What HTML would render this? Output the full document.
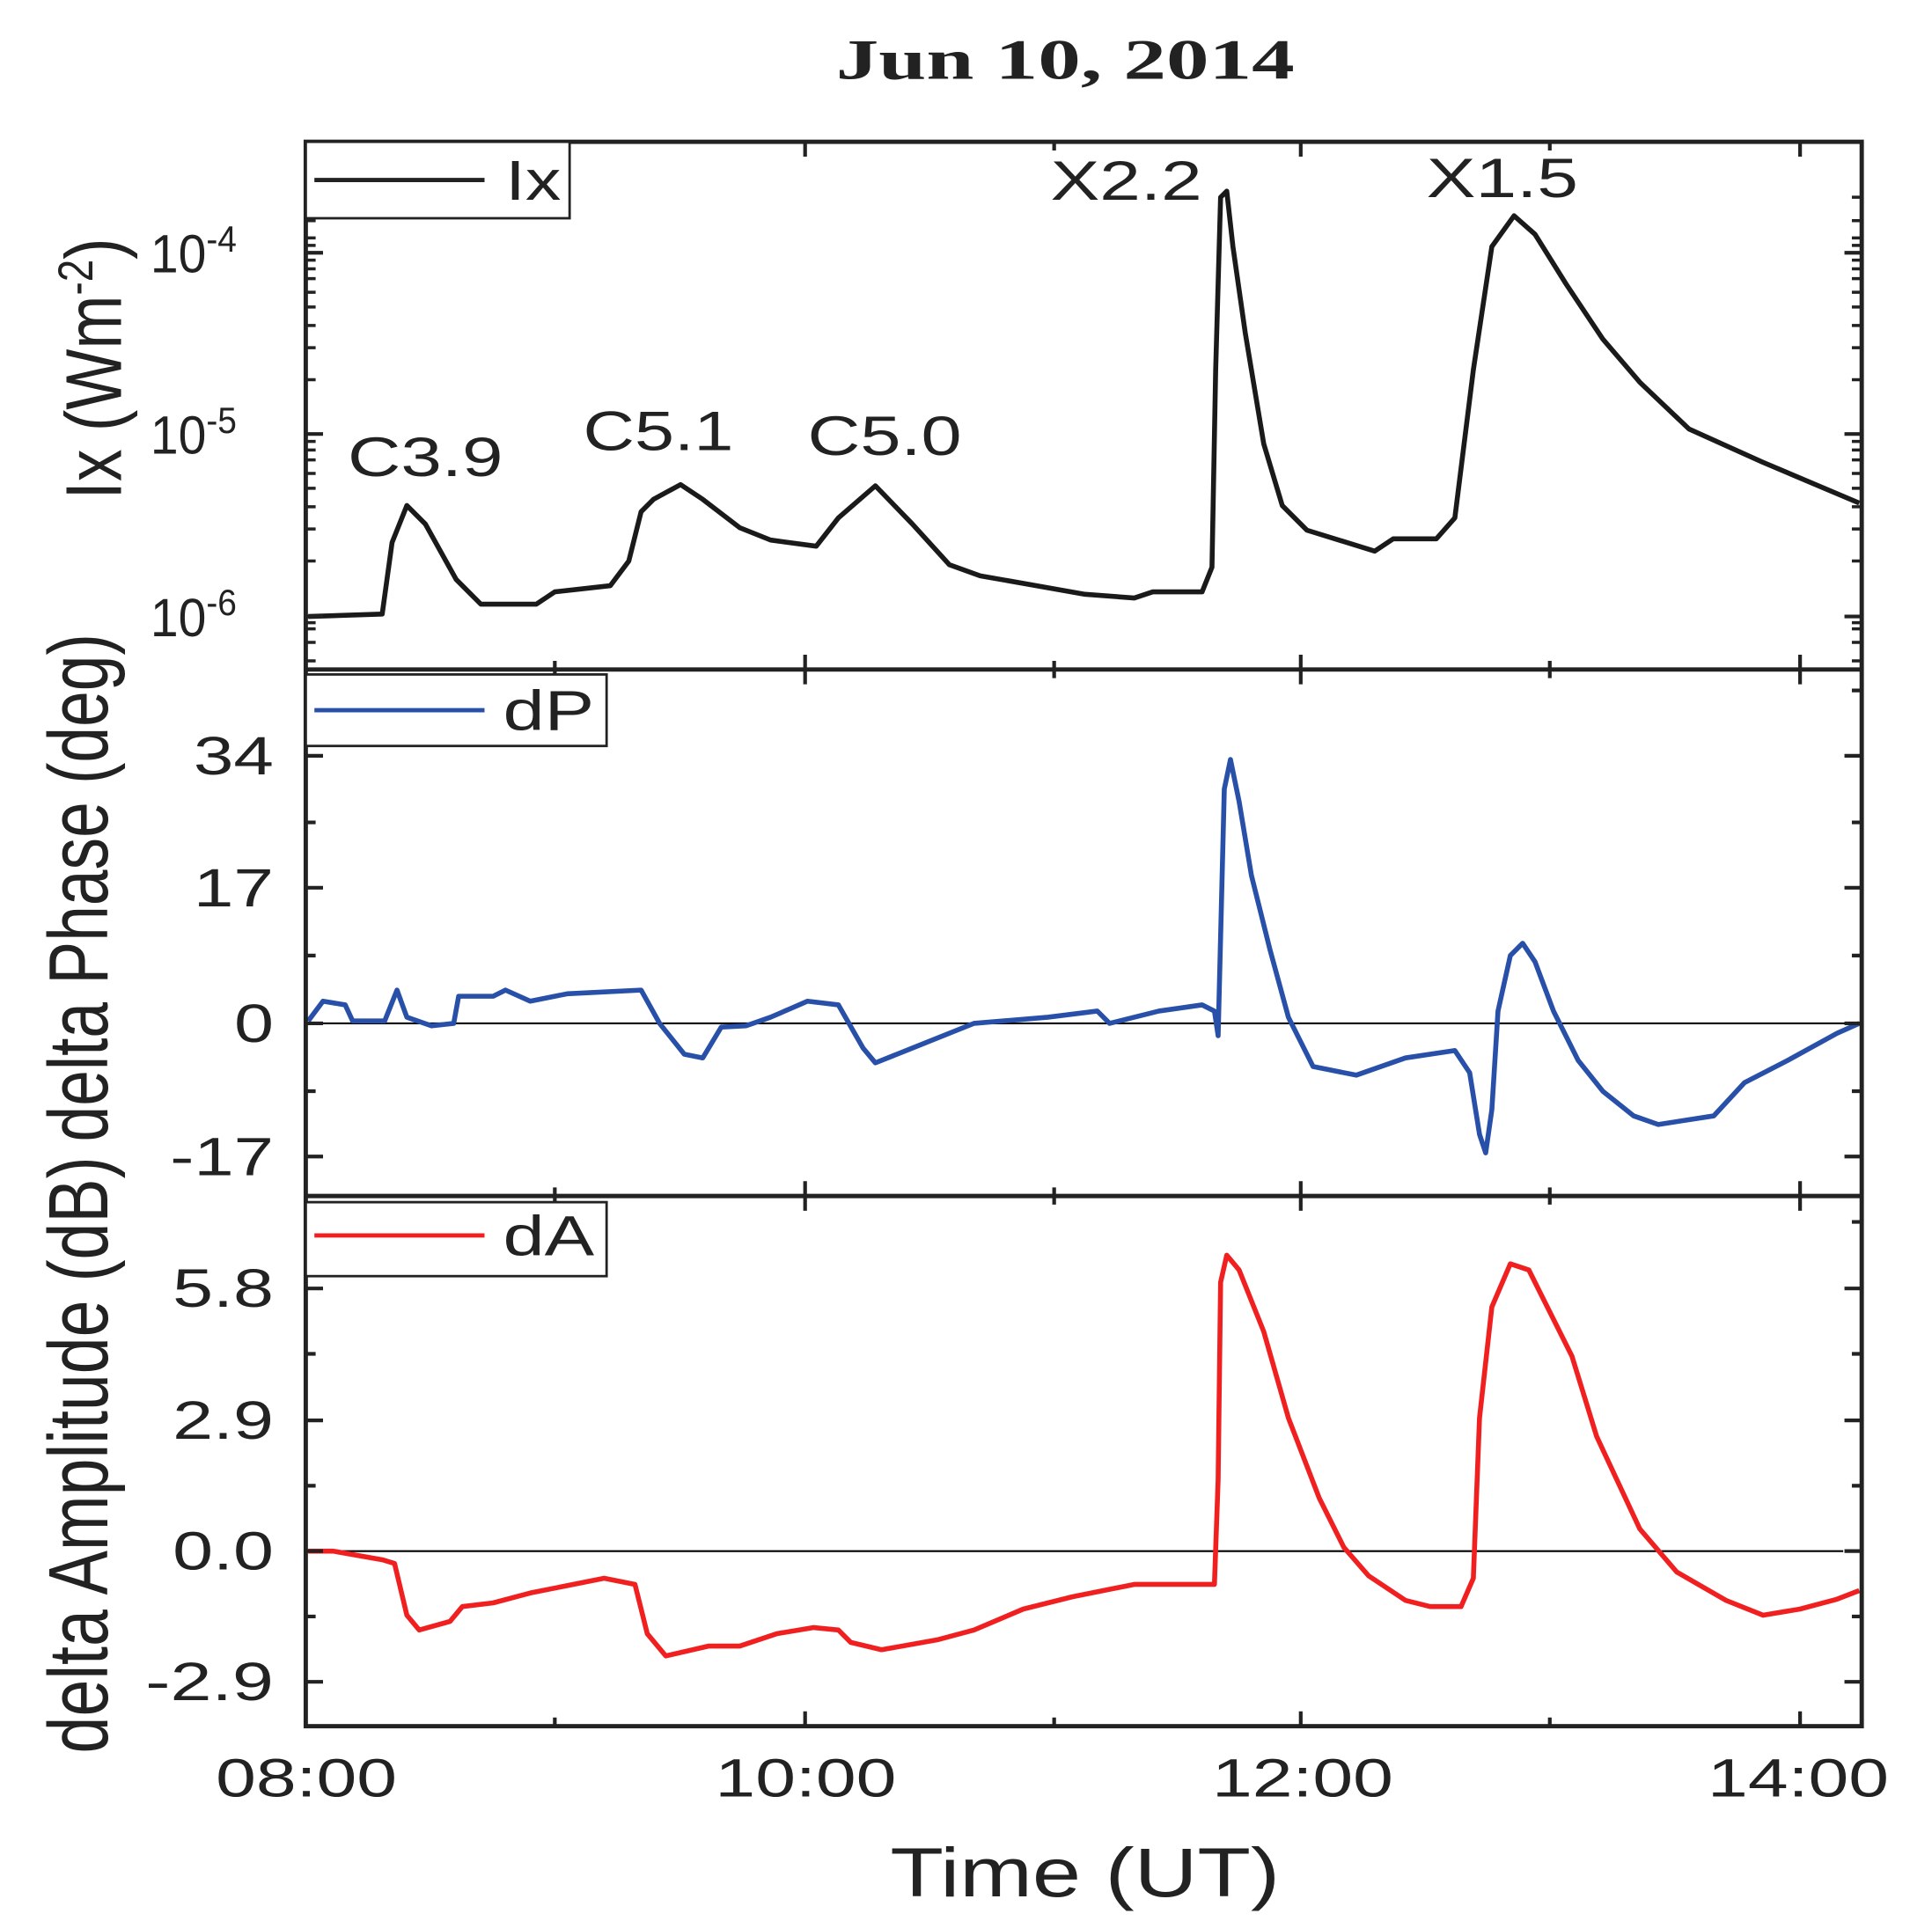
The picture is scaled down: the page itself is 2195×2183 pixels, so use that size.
<!DOCTYPE html>
<html><head><meta charset="utf-8"><style>html,body{margin:0;padding:0;background:#fff}svg{display:block}</style></head>
<body>
<svg width="2195" height="2183" viewBox="0 0 1567 1558" preserveAspectRatio="none" xmlns="http://www.w3.org/2000/svg" font-family="Liberation Sans, sans-serif">
<rect width="1567" height="1558" fill="#fff"/>
<text x="864" y="64" font-family="Liberation Serif, serif" font-weight="bold" font-size="46" text-anchor="middle" fill="#222" textLength="372" lengthAdjust="spacingAndGlyphs">Jun 10, 2014</text>

<line x1="248" y1="830" x2="1510" y2="830" stroke="#000" stroke-width="1.5"/>
<line x1="248" y1="1258" x2="1495" y2="1258" stroke="#000" stroke-width="1.5"/>

<polyline fill="none" stroke="#1a1a1a" stroke-width="4" stroke-linejoin="round" points="250,500 310,498 318,440 330,410 345,425 370,470 390,490 435,490 450,480 495,475 510,455 520,415 530,405 552,393 570,405 600,428 625,438 662,443 680,420 710,394 740,425 770,458 795,467 880,482 920,485 935,480 975,480 983,460 986,300 990,160 995,155 1000,200 1010,270 1025,360 1040,410 1060,430 1115,447 1130,437 1165,437 1180,420 1195,300 1210,200 1228,175 1245,190 1270,230 1300,275 1330,310 1370,348 1430,375 1508,408"/>
<polyline fill="none" stroke="#2850a8" stroke-width="4" stroke-linejoin="round" points="250,828 262,812 280,815 286,828 312,828 322,803 330,825 350,832 368,830 372,808 400,808 410,803 430,812 460,806 520,803 535,830 555,855 570,858 585,833 605,832 625,825 655,812 680,815 700,850 710,862 740,850 790,830 850,825 890,820 900,830 940,820 975,815 985,820 988,840 990,760 993,640 998,616 1005,650 1015,710 1030,770 1045,825 1065,865 1100,872 1140,858 1180,852 1192,870 1200,920 1205,935 1210,900 1215,820 1225,775 1235,765 1245,780 1260,820 1280,860 1300,885 1325,905 1345,912 1390,905 1415,878 1450,860 1490,838 1508,830"/>
<polyline fill="none" stroke="#f02020" stroke-width="4" stroke-linejoin="round" points="250,1258 270,1258 310,1265 320,1268 330,1310 340,1322 365,1315 375,1303 400,1300 430,1292 490,1280 515,1285 525,1325 540,1343 575,1335 600,1335 630,1325 660,1320 680,1322 690,1332 715,1338 760,1330 790,1322 830,1305 870,1295 920,1285 985,1285 988,1200 990,1040 995,1018 1005,1030 1025,1080 1045,1150 1070,1215 1090,1255 1110,1278 1140,1298 1160,1303 1185,1303 1195,1280 1200,1150 1210,1060 1225,1025 1240,1030 1255,1060 1275,1100 1295,1165 1330,1240 1360,1275 1400,1298 1430,1310 1460,1305 1490,1297 1508,1290"/>

<g stroke="#222" stroke-width="3">
<path d="M653,115v12M1055,115v12M1460,115v12M653,543v-12M1055,543v-12M1460,543v-12
M653,543v12M1055,543v12M1460,543v12M653,970v-12M1055,970v-12M1460,970v-12
M653,970v12M1055,970v12M1460,970v12M653,1400v-12M1055,1400v-12M1460,1400v-12
M450,115v7M855,115v7M1257,115v7M450,543v-7M855,543v-7M1257,543v-7
M450,543v7M855,543v7M1257,543v7M450,970v-7M855,970v-7M1257,970v-7
M450,970v7M855,970v7M1257,970v7M450,1400v-7M855,1400v-7M1257,1400v-7"/>
<path d="M248,613h14M248,720h14M248,830h14M248,938h14M1510,613h-14M1510,720h-14M1510,830h-14M1510,938h-14
M248,667h8M248,775h8M248,885h8M1510,667h-8M1510,775h-8M1510,885h-8M248,560h8M1510,560h-8
M248,1045h14M248,1152h14M248,1258h14M248,1364h14M1510,1045h-14M1510,1152h-14M1510,1258h-14M1510,1364h-14
M248,1098h8M248,1205h8M248,1311h8M1510,1098h-8M1510,1205h-8M1510,1311h-8M248,991h8M1510,991h-8
M248,205h14M248,352h14M248,500h14M1510,205h-14M1510,352h-14M1510,500h-14"/>
<path stroke-width="2.5" d="M248,160h8M248,179h8M248,193h8M248,199h8M248,308h8M248,282h8M248,264h8M248,249h8M248,237h8M248,226h8M248,218h8M248,211h8M248,455h8M248,429h8M248,411h8M248,396h8M248,384h8M248,373h8M248,365h8M248,358h8M248,536h8M248,521h8M248,510h8M248,505h8
M1510,160h-8M1510,179h-8M1510,193h-8M1510,199h-8M1510,308h-8M1510,282h-8M1510,264h-8M1510,249h-8M1510,237h-8M1510,226h-8M1510,218h-8M1510,211h-8M1510,455h-8M1510,429h-8M1510,411h-8M1510,396h-8M1510,384h-8M1510,373h-8M1510,365h-8M1510,358h-8M1510,536h-8M1510,521h-8M1510,510h-8M1510,505h-8"/>
</g>

<g fill="none" stroke="#222" stroke-width="3.5">
<rect x="248" y="115" width="1262" height="1285"/>
<line x1="248" y1="543" x2="1510" y2="543"/>
<line x1="248" y1="970" x2="1510" y2="970"/>
</g>

<g stroke="#222" stroke-width="2" fill="#fff">
<rect x="248" y="115" width="214" height="62"/>
<rect x="248" y="547" width="244" height="58"/>
<rect x="248" y="975" width="244" height="60"/>
</g>
<line x1="255" y1="146" x2="393" y2="146" stroke="#222" stroke-width="3.5"/>
<line x1="255" y1="576" x2="393" y2="576" stroke="#2850a8" stroke-width="3.5"/>
<line x1="255" y1="1002" x2="393" y2="1002" stroke="#f02020" stroke-width="3.5"/>
<g font-size="46" fill="#222">
<text x="410" y="162" textLength="45" lengthAdjust="spacingAndGlyphs">Ix</text>
<text x="408" y="592" textLength="74" lengthAdjust="spacingAndGlyphs">dP</text>
<text x="408" y="1018" textLength="74" lengthAdjust="spacingAndGlyphs">dA</text>
</g>

<g font-size="45" fill="#222">
<text x="282" y="386" textLength="126" lengthAdjust="spacingAndGlyphs">C3.9</text>
<text x="473" y="365" textLength="122" lengthAdjust="spacingAndGlyphs">C5.1</text>
<text x="655" y="369" textLength="125" lengthAdjust="spacingAndGlyphs">C5.0</text>
<text x="852" y="162" textLength="123" lengthAdjust="spacingAndGlyphs">X2.2</text>
<text x="1157" y="160" textLength="123" lengthAdjust="spacingAndGlyphs">X1.5</text>
</g>

<g font-size="44" fill="#222">
<text x="122" y="221" textLength="70" lengthAdjust="spacingAndGlyphs">10<tspan font-size="30" dy="-17">-4</tspan></text>
<text x="122" y="368" textLength="70" lengthAdjust="spacingAndGlyphs">10<tspan font-size="30" dy="-17">-5</tspan></text>
<text x="122" y="516" textLength="70" lengthAdjust="spacingAndGlyphs">10<tspan font-size="30" dy="-17">-6</tspan></text>
<text x="157" y="628" textLength="65" lengthAdjust="spacingAndGlyphs">34</text>
<text x="157" y="735" textLength="65" lengthAdjust="spacingAndGlyphs">17</text>
<text x="190" y="845" textLength="32" lengthAdjust="spacingAndGlyphs">0</text>
<text x="138" y="953" textLength="84" lengthAdjust="spacingAndGlyphs">-17</text>
<text x="140" y="1060" textLength="82" lengthAdjust="spacingAndGlyphs">5.8</text>
<text x="140" y="1167" textLength="82" lengthAdjust="spacingAndGlyphs">2.9</text>
<text x="140" y="1273" textLength="82" lengthAdjust="spacingAndGlyphs">0.0</text>
<text x="118" y="1379" textLength="104" lengthAdjust="spacingAndGlyphs">-2.9</text>
</g>
<g font-size="44" fill="#222">
<text x="175" y="1457" textLength="147" lengthAdjust="spacingAndGlyphs">08:00</text>
<text x="580" y="1457" textLength="147" lengthAdjust="spacingAndGlyphs">10:00</text>
<text x="983" y="1457" textLength="147" lengthAdjust="spacingAndGlyphs">12:00</text>
<text x="1385" y="1457" textLength="147" lengthAdjust="spacingAndGlyphs">14:00</text>
</g>
<text x="722" y="1538" font-size="56" fill="#222" textLength="316" lengthAdjust="spacingAndGlyphs">Time (UT)</text>

<g fill="#222">
<text font-size="64" transform="translate(98,405) rotate(-90)" textLength="212" lengthAdjust="spacingAndGlyphs">Ix (Wm<tspan font-size="40" dy="-23">-2</tspan><tspan dy="23">)</tspan></text>
<text font-size="68" transform="translate(87,926) rotate(-90)" textLength="412" lengthAdjust="spacingAndGlyphs">delta Phase (deg)</text>
<text font-size="68" transform="translate(87,1422) rotate(-90)" textLength="484" lengthAdjust="spacingAndGlyphs">delta Amplitude (dB)</text>
</g>
</svg>
</body></html>
